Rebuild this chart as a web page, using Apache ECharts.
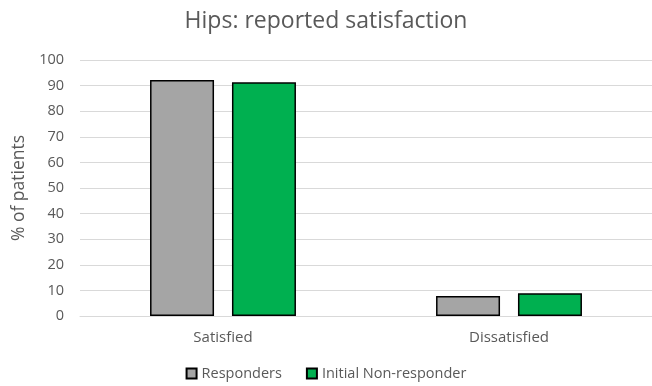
<!DOCTYPE html>
<html>
<head>
  <meta charset="UTF-8">
  <title>Hips: reported satisfaction</title>
  <script src="https://cdn.jsdelivr.net/npm/echarts@6/dist/echarts.min.js"></script>
</head>
<body style="margin:0">
<div id="main" style="width: 652px;height:386px;"></div>
<script type="text/javascript">
  var categories = ['Satisfied', 'Dissatisfied'];
  var responders = [92.2, 7.8];
  var nonResponders = [91.3, 8.9];

  var myChart = echarts.init(document.getElementById('main'));
  var font = '"Open Sans", sans-serif';

  var option = {
    textStyle: { fontFamily: font },
    title: {
      text: 'Hips: reported satisfaction',
      left: 'center',
      top: 5,
      textStyle: { fontSize: 23, fontWeight: 'normal', color: '#595959', fontFamily: font }
    },
    legend: {
      bottom: 0,
      left: 'center',
      icon: 'rect',
      itemWidth: 10,
      itemHeight: 10,
      itemGap: 24,
      textStyle: { fontSize: 14.5, color: '#595959', fontFamily: font },
      data: ['Responders', 'Initial Non-responder']
    },
    grid: { left: 80, right: 0, top: 60, bottom: 70 },
    xAxis: {
      type: 'category',
      data: categories,
      axisLine: { lineStyle: { color: '#d9d9d9' } },
      axisTick: { show: false },
      axisLabel: { color: '#595959', fontSize: 15, margin: 14, fontFamily: font }
    },
    yAxis: {
      type: 'value',
      min: 0,
      max: 100,
      interval: 10,
      name: '% of patients',
      nameLocation: 'middle',
      nameGap: 48,
      nameTextStyle: { color: '#595959', fontSize: 17.5, fontFamily: font },
      axisLine: { show: false },
      axisTick: { show: false },
      axisLabel: { color: '#595959', fontSize: 14.5, margin: 16, fontFamily: font },
      splitLine: { lineStyle: { color: '#d9d9d9' } }
    },
    series: [
      {
        name: 'Responders',
        type: 'bar',
        data: responders,
        barWidth: 64,
        barGap: '28%',
        itemStyle: { color: '#a5a5a5', borderColor: '#000', borderWidth: 1.5 }
      },
      {
        name: 'Initial Non-responder',
        type: 'bar',
        data: nonResponders,
        barWidth: 64,
        itemStyle: { color: '#00b050', borderColor: '#000', borderWidth: 1.5 }
      }
    ]
  };
  myChart.setOption(option);
</script>
</body>
</html>
